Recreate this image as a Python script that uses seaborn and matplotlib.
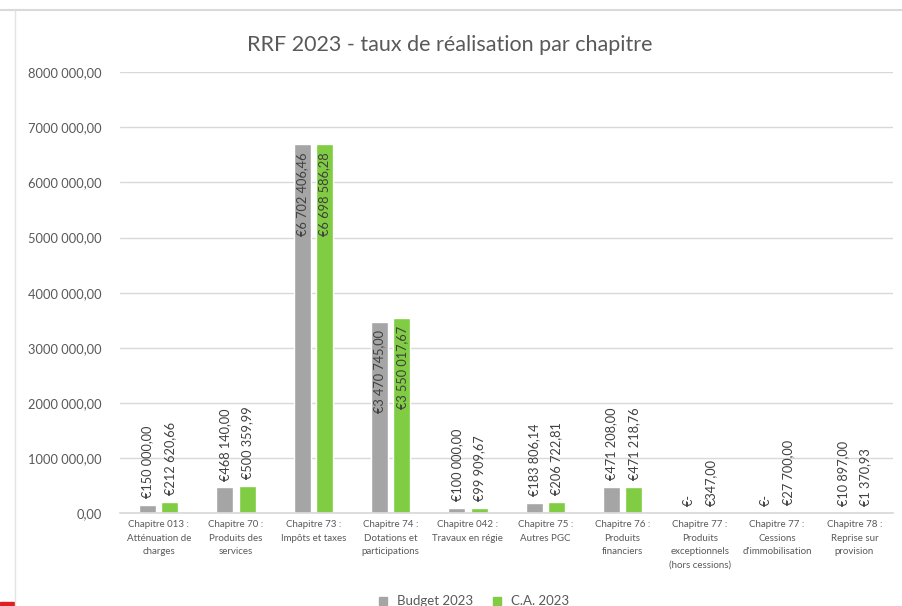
import matplotlib
matplotlib.use("Agg")
import matplotlib.pyplot as plt
import pandas as pd
import seaborn as sns
from matplotlib.lines import Line2D
from matplotlib.patches import Rectangle

sns.set_theme(style="white")
plt.rcParams["font.family"] = ["Lato", "DejaVu Sans"]

# ----------------------------
# Data
# ----------------------------
chapitres = [
    "Chapitre 013 :\nAtténuation de\ncharges",
    "Chapitre 70 :\nProduits des\nservices",
    "Chapitre 73 :\nImpôts et taxes",
    "Chapitre 74 :\nDotations et\nparticipations",
    "Chapitre 042 :\nTravaux en régie",
    "Chapitre 75 :\nAutres PGC",
    "Chapitre 76 :\nProduits\nfinanciers",
    "Chapitre 77 :\nProduits\nexceptionnels\n(hors cessions)",
    "Chapitre 77 :\nCessions\nd'immobilisation",
    "Chapitre 78 :\nReprise sur\nprovision",
]
budget_2023 = [150000.00, 468140.00, 6702406.46, 3470745.00, 100000.00,
               183806.14, 471208.00, 0.0, 0.0, 10897.00]
ca_2023 = [212620.66, 500359.99, 6698586.28, 3550017.67, 99909.67,
           206722.81, 471218.76, 347.00, 27700.00, 1370.93]
series = ["Budget 2023", "C.A. 2023"]
y_ticks = [0, 1000000, 2000000, 3000000, 4000000, 5000000, 6000000, 7000000, 8000000]
y_tick_labels = ["0,00", "1000 000,00", "2000 000,00", "3000 000,00", "4000 000,00",
                 "5000 000,00", "6000 000,00", "7000 000,00", "8000 000,00"]
inside_labels = ["Chapitre 73 :\nImpôts et taxes", "Chapitre 74 :\nDotations et\nparticipations"]

colors = {"Budget 2023": "#A5A5A5", "C.A. 2023": "#80CC42"}


def euro(v):
    if v == 0:
        return "€-"
    s = f"{v:,.2f}".replace(",", " ").replace(".", ",")
    return "€" + s


df = pd.DataFrame({
    "chapitre": chapitres * 2,
    "serie": [series[0]] * len(chapitres) + [series[1]] * len(chapitres),
    "montant": budget_2023 + ca_2023,
})

# ----------------------------
# Plot
# ----------------------------
fig = plt.figure(figsize=(9.03, 6.06), dpi=100)
ax = fig.add_axes([0.133, 0.153, 0.856, 0.728])

sns.barplot(data=df, x="chapitre", y="montant", hue="serie", order=chapitres,
            hue_order=series, palette=colors, width=0.58, gap=0.24,
            saturation=1, legend=False, ax=ax)

ax.set_ylim(0, 8000000)
ax.set_xlim(-0.5, len(chapitres) - 0.5)
ax.set_yticks(y_ticks)
ax.set_yticklabels(y_tick_labels, fontsize=9.3, color="#595959")
ax.set_xticks(range(len(chapitres)))
ax.set_xticklabels(chapitres, fontsize=7.0, color="#595959", linespacing=1.65)
ax.tick_params(axis="x", length=0, pad=5)
ax.tick_params(axis="y", length=0, pad=13)
ax.set_xlabel("")
ax.set_ylabel("")
ax.grid(axis="y", color="#D9D9D9", linewidth=1)
ax.set_axisbelow(True)
for side in ["top", "right", "left"]:
    ax.spines[side].set_visible(False)
ax.spines["bottom"].set_color("#D9D9D9")

# data labels
for cont, vals in zip(ax.containers, [budget_2023, ca_2023]):
    for bar, v, cat in zip(cont.patches, vals, chapitres):
        x = bar.get_x() + bar.get_width() / 2
        if cat in inside_labels:
            ax.annotate(euro(v), (x, v), xytext=(0, -6), textcoords="offset points",
                        rotation=90, ha="center", va="top", fontsize=9.2, color="#404040")
        else:
            ax.annotate(euro(v), (x, v), xytext=(0, 5), textcoords="offset points",
                        rotation=90, ha="center", va="bottom", fontsize=9.2, color="#404040")

fig.text(0.498, 0.925, "RRF 2023 - taux de réalisation par chapitre",
         ha="center", va="center", fontsize=15.5, color="#595959")

handles = [Line2D([], [], marker="s", linestyle="", markersize=5.5,
                  color=colors[s]) for s in series]
fig.legend(handles, series, loc="center", bbox_to_anchor=(0.52, 0.008),
           ncol=2, frameon=False, fontsize=9.5, handletextpad=0.05,
           columnspacing=0.8, labelcolor="#595959")

# screenshot frame
fig.add_artist(Line2D([0.0, 1.0], [0.984, 0.984], color="#D9D9D9", linewidth=1.5,
                      transform=fig.transFigure))
fig.add_artist(Line2D([0.017, 0.017], [0.0, 0.984], color="#E3E3E3", linewidth=1,
                      transform=fig.transFigure))
fig.add_artist(Rectangle((0, 0), 0.015, 0.007, color="#E02020",
                         transform=fig.transFigure))

fig.savefig("out.png", dpi=100)
